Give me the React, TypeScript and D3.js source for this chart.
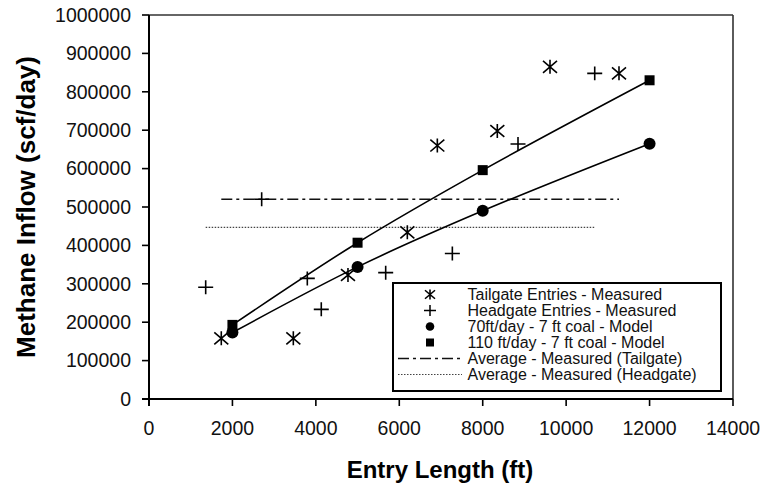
import React from 'react';
import * as d3 from 'd3';

// ---- Data ----
const tailgateX = [1733, 3460, 4770, 6193, 6912, 8350, 9613, 11267];
const tailgateY = [158000, 158000, 323000, 434000, 660000, 698000, 865000, 848000];
const headgateX = [1359, 2701, 3795, 4130, 5674, 7272, 8846, 10685];
const headgateY = [291000, 520000, 314000, 233500, 329000, 379000, 664000, 848000];
const modelX = [2000, 5000, 8000, 12000];
const model70 = [173000, 344000, 490000, 665000];
const model110 = [193000, 407000, 596000, 830000];
const avgTailgate = 520000;
const avgHeadgate = 447000;
const xTicks = [0, 2000, 4000, 6000, 8000, 10000, 12000, 14000];
const yTicks = [0, 100000, 200000, 300000, 400000, 500000, 600000, 700000, 800000, 900000, 1000000];
const legendLabels = [
  'Tailgate Entries - Measured',
  'Headgate Entries - Measured',
  '70ft/day - 7 ft coal - Model',
  '110 ft/day - 7 ft coal - Model',
  'Average - Measured (Tailgate)',
  'Average - Measured (Headgate)',
];

const W = 765;
const H = 484;
const L = 149, R = 733, T = 15, B = 399;
const FONT = '"Liberation Sans", Arial, Helvetica, sans-serif';

const x = d3.scaleLinear().domain([0, 14000]).range([L, R]);
const y = d3.scaleLinear().domain([0, 1000000]).range([B, T]);

const star = (cx: number, cy: number, s: number) =>
  `M${cx - s},${cy - s * 0.85}L${cx + s},${cy + s * 0.85}M${cx - s},${cy + s * 0.85}L${cx + s},${cy - s * 0.85}M${cx},${cy - s}L${cx},${cy + s}`;
const plus = (cx: number, cy: number, s: number) =>
  `M${cx - s},${cy}L${cx + s},${cy}M${cx},${cy - s * 0.93}L${cx},${cy + s * 0.93}`;

const curve = d3
  .line<[number, number]>()
  .x((d) => x(d[0]))
  .y((d) => y(d[1]))
  .curve(d3.curveCatmullRom.alpha(0.5));

export default function App() {
  const tail = tailgateX.map((v, i) => [v, tailgateY[i]] as [number, number]);
  const head = headgateX.map((v, i) => [v, headgateY[i]] as [number, number]);
  const m70 = modelX.map((v, i) => [v, model70[i]] as [number, number]);
  const m110 = modelX.map((v, i) => [v, model110[i]] as [number, number]);
  const tailExt = d3.extent(tailgateX) as [number, number];
  const headExt = d3.extent(headgateX) as [number, number];

  const legX = 393, legY = 283, legW = 328, legH = 108;
  const symX = 430;
  const textX = 467.5;
  const baselines = [300, 316, 332, 348, 364, 380];

  return (
    <svg
      width={W}
      height={H}
      style={{ position: 'absolute', left: 0, top: 0, background: '#fff' }}
      fontFamily={FONT}
    >
      <rect x={0} y={0} width={W} height={H} fill="#fff" />

      {/* frame */}
      <line x1={L} y1={T} x2={R} y2={T} stroke="#333" strokeWidth={1.6} />
      <line x1={R} y1={T} x2={R} y2={B} stroke="#333" strokeWidth={1.6} />

      {/* average lines */}
      <line
        x1={x(tailExt[0])}
        x2={x(tailExt[1])}
        y1={y(avgTailgate)}
        y2={y(avgTailgate)}
        stroke="#111"
        strokeWidth={1.6}
        strokeDasharray="11,4,3,4"
      />
      <line
        x1={x(headExt[0])}
        x2={x(headExt[1])}
        y1={y(avgHeadgate)}
        y2={y(avgHeadgate)}
        stroke="#444"
        strokeWidth={1.1}
        strokeDasharray="1.5,1.5"
      />

      {/* model curves */}
      <path d={curve(m110) || ''} fill="none" stroke="#000" strokeWidth={1.6} />
      <path d={curve(m70) || ''} fill="none" stroke="#000" strokeWidth={1.6} />

      {/* measured points */}
      {tail.map((d, i) => (
        <path key={'t' + i} d={star(x(d[0]), y(d[1]), 7)} stroke="#000" strokeWidth={1.6} fill="none" />
      ))}
      {head.map((d, i) => (
        <path key={'h' + i} d={plus(x(d[0]), y(d[1]), 7.5)} stroke="#000" strokeWidth={1.6} fill="none" />
      ))}

      {/* model markers */}
      {m110.map((d, i) => (
        <rect key={'s' + i} x={x(d[0]) - 5} y={y(d[1]) - 5} width={10} height={10} fill="#000" />
      ))}
      {m70.map((d, i) => (
        <circle key={'c' + i} cx={x(d[0])} cy={y(d[1])} r={6} fill="#000" />
      ))}

      {/* axes */}
      <line x1={L} y1={T} x2={L} y2={B + 7} stroke="#000" strokeWidth={2} />
      <line x1={L - 7} y1={B} x2={R} y2={B} stroke="#000" strokeWidth={2} />
      {yTicks.map((t) => (
        <g key={'yt' + t}>
          <line x1={L - 7} x2={L} y1={y(t)} y2={y(t)} stroke="#000" strokeWidth={1.6} />
          <text x={131} y={y(t)} dy="0.35em" textAnchor="end" fontSize={19.5} fill="#111">
            {t}
          </text>
        </g>
      ))}
      {xTicks.map((t) => (
        <g key={'xt' + t}>
          <line x1={x(t)} x2={x(t)} y1={B} y2={B + 7} stroke="#000" strokeWidth={1.6} />
          <text x={x(t)} y={435} textAnchor="middle" fontSize={19.5} fill="#111">
            {t}
          </text>
        </g>
      ))}

      {/* axis titles */}
      <text x={440} y={478} textAnchor="middle" fontSize={24} fontWeight="bold" fill="#000">
        Entry Length (ft)
      </text>
      <text
        transform={`translate(35,207) rotate(-90)`}
        textAnchor="middle"
        fontSize={26}
        fontWeight="bold"
        fill="#000"
      >
        Methane Inflow (scf/day)
      </text>

      {/* legend */}
      <rect x={legX} y={legY} width={legW} height={legH} fill="#fff" stroke="#000" strokeWidth={2} />
      {legendLabels.map((lab, i) => {
        const cy = baselines[i] - 5.5;
        let sym: React.ReactNode = null;
        if (i === 0) sym = <path d={star(symX, cy, 5)} stroke="#000" strokeWidth={1.6} fill="none" />;
        else if (i === 1) sym = <path d={plus(symX, cy, 6)} stroke="#000" strokeWidth={1.5} fill="none" />;
        else if (i === 2) sym = <circle cx={symX} cy={cy} r={4.3} fill="#000" />;
        else if (i === 3) sym = <rect x={symX - 4} y={cy - 4} width={8} height={8} fill="#000" />;
        else if (i === 4)
          sym = (
            <line x1={398} x2={462} y1={cy} y2={cy} stroke="#111" strokeWidth={1.6} strokeDasharray="11,4,3,4" />
          );
        else
          sym = (
            <line x1={398} x2={462} y1={cy} y2={cy} stroke="#444" strokeWidth={1.1} strokeDasharray="1.5,1.5" />
          );
        return (
          <g key={'lg' + i}>
            {sym}
            <text x={textX} y={baselines[i]} fontSize={16} fill="#111">
              {lab}
            </text>
          </g>
        );
      })}
    </svg>
  );
}
